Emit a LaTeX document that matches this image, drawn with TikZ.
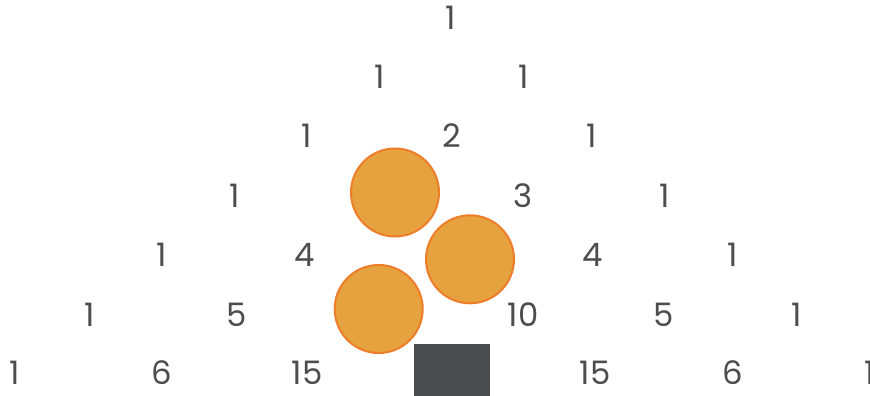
\documentclass[tikz,border=0pt]{standalone}
\usepackage{fontspec}
\setmainfont{Poppins}
\usetikzlibrary{positioning}

\definecolor{numgray}{HTML}{4D4D4F}
\definecolor{ballfill}{HTML}{E6A23F}
\definecolor{balledge}{HTML}{EE7D2A}
\definecolor{blockgray}{HTML}{4B4C4E}

\tikzset{
  num/.style={inner sep=0pt,text=numgray,font=\fontsize{27.6}{30}\selectfont},
  ball/.style={circle,draw=balledge,fill=ballfill,line width=0.6mm,minimum size=26.4mm,inner sep=0pt},
  block/.style={fill=blockgray,draw=none}
}

\begin{document}
\begin{tikzpicture}[x=0.3mm,y=-0.3mm]
\useasboundingbox (0,0) rectangle (870,396);
% row 0 to 2
\node[num] (a0) at (451,18) {1};
\node[num] (b0) at (379.5,77) {1};
\node[num] (b1) at (523.5,77) {1};
\node[num] (c0) at (306.5,136) {1};
\node[num] (c1) at (451.5,136) {2};
\node[num] (c2) at (592,136) {1};
% row 3
\node[num] (d0) at (235,196) {1};
\node[num] (d2) at (523,196) {3};
\node[num] (d3) at (664.5,196) {1};
% row 4
\node[num] (e0) at (162,255) {1};
\node[num] (e1) at (305,255) {4};
\node[num] (e3) at (592.5,255) {4};
\node[num] (e4) at (732.5,255) {1};
% row 5
\node[num] (f0) at (89.5,314.5) {1};
\node[num] (f1) at (236.5,314.5) {5};
\node[num] (f3) at (523,314.5) {10};
\node[num] (f4) at (664,314.5) {5};
\node[num] (f5) at (796.5,314.5) {1};
% row 6
\node[num] (g0) at (15,373) {1};
\node[num] (g1) at (161.5,373) {6};
\node[num] (g2) at (307,373) {15};
\node[num] (g4) at (595,373) {15};
\node[num] (g5) at (733,373) {6};
\node[num] (g6) at (870,373) {1};
% covers
\node[ball] (ballA) at (395,192.5) {};
\node[ball] (ballB) at (470,259.3) {};
\node[ball] (ballC) at (378.7,309) {};
\fill[block] (414.3,344) rectangle (490,396);
\end{tikzpicture}
\end{document}
